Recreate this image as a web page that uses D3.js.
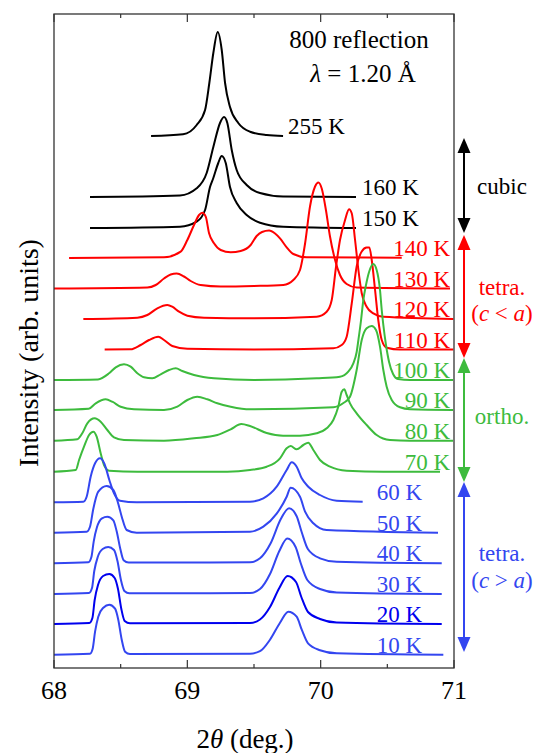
<!DOCTYPE html>
<html>
<head>
<meta charset="utf-8">
<script src="https://cdn.jsdelivr.net/npm/d3@7"></script>
<style>
  body { margin: 0; background: #fff; }
</style>
</head>
<body>
<svg id="chart" width="534" height="753" font-family="'Liberation Serif', 'Times New Roman', 'DejaVu Serif', serif"></svg>
<script>
// profiles: [2theta (deg), intensity above own baseline (arb.)]
const k255 = [[68.728,0],[68.968,1.7],[69.070,11],[69.133,26],[69.165,53],[69.195,83],[69.228,104],[69.258,86],[69.283,53],[69.320,29],[69.382,13],[69.470,4.3],[69.595,1],[69.718,0]];
const k160 = [[68.270,0],[68.945,1.5],[69.070,8.7],[69.145,24],[69.195,50],[69.245,74],[69.275,80],[69.300,74],[69.333,47],[69.370,27],[69.445,12],[69.545,4],[69.718,0.5],[70.265,0]];
const k150 = [[68.270,0],[68.945,1.3],[69.070,6.3],[69.133,18],[69.170,41],[69.195,50],[69.232,65],[69.258,72],[69.288,65],[69.320,41],[69.370,25],[69.445,13],[69.545,5.3],[69.718,1.3],[70.265,0]];
const k140 = [[68.113,0],[68.825,0.7],[68.950,6.3],[69.000,18],[69.050,33],[69.088,43],[69.112,45.3],[69.138,41.3],[69.163,24.7],[69.200,14.7],[69.250,8],[69.325,5.7],[69.400,7],[69.475,13],[69.520,22],[69.560,26],[69.613,27.5],[69.658,24.5],[69.695,19.7],[69.745,10.7],[69.795,4],[69.895,0.7],[70.608,0.3]];
const k130 = [[68.000,0],[68.700,1],[68.763,3.5],[68.825,10],[68.875,14],[68.920,15],[68.975,12],[69.025,7.5],[69.100,3.5],[69.250,2],[69.500,2.5],[69.720,3.5],[69.795,8.5],[69.845,18.5],[69.883,45],[69.920,82],[69.958,102],[69.983,106],[70.008,100],[70.040,78],[70.070,52],[70.108,28.5],[70.145,13.5],[70.195,4.5],[70.270,1],[70.970,0]];
const k120 = [[68.220,0],[68.625,1.3],[68.700,4],[68.775,10.7],[68.850,14],[68.887,12.3],[68.938,7.3],[69.000,3.3],[69.125,1.3],[69.500,0.7],[69.970,2.3],[70.045,7.3],[70.083,19],[70.115,52],[70.145,79],[70.183,99],[70.213,109.7],[70.233,105.7],[70.258,79],[70.283,49],[70.308,25.7],[70.345,12.3],[70.395,5.7],[70.470,2.3],[70.995,0]];
const k110 = [[68.380,0],[68.575,0.2],[68.650,4.5],[68.713,9.5],[68.782,12.8],[68.825,9.5],[68.887,3.5],[69.000,0.8],[69.500,0],[70.095,1.2],[70.158,4.5],[70.195,12.8],[70.233,46],[70.270,83],[70.308,98],[70.345,102],[70.365,102],[70.383,89.5],[70.408,59.5],[70.432,29.5],[70.458,9.5],[70.495,1.8],[70.595,0],[70.995,0]];
const k100 = [[68.000,0],[68.330,0.6],[68.413,6.7],[68.463,12.7],[68.525,15.7],[68.575,13.3],[68.625,6.7],[68.675,2.7],[68.737,1.7],[68.800,5.7],[68.863,10],[68.913,11.7],[68.962,9],[69.050,5],[69.200,1.7],[69.500,0],[69.970,1.7],[70.145,3.3],[70.207,8.3],[70.245,16.7],[70.270,28],[70.283,40],[70.303,60],[70.320,80],[70.340,95],[70.363,108],[70.395,116],[70.420,110],[70.445,90],[70.458,70],[70.470,55],[70.490,35],[70.513,18],[70.543,6],[70.580,1],[70.670,0],[70.993,0]];
const k90 = [[68.000,0],[68.260,1.2],[68.313,6.7],[68.388,10.7],[68.437,8.3],[68.500,3.3],[68.600,0.7],[68.825,0],[68.925,3.3],[69.000,10],[69.075,13.3],[69.150,10.7],[69.225,6.7],[69.325,3.3],[69.470,0.7],[70.095,2.7],[70.168,6.7],[70.220,13.3],[70.270,40],[70.308,70],[70.345,81.7],[70.383,84],[70.415,80],[70.445,63.3],[70.470,40],[70.495,23.3],[70.533,10],[70.595,2.7],[70.670,0.7],[70.993,0]];
const k80 = [[68.000,0],[68.175,1.4],[68.212,7.4],[68.250,17.4],[68.305,22.4],[68.350,19],[68.400,10.7],[68.450,3.4],[68.525,0.7],[68.825,0],[69.050,2.4],[69.225,5.7],[69.325,11.4],[69.405,16.7],[69.470,14.7],[69.595,7.7],[69.718,5],[69.845,5],[69.970,7.4],[70.045,12.4],[70.095,20.7],[70.132,34],[70.158,49],[70.177,51.4],[70.195,45.7],[70.220,37.4],[70.270,27.4],[70.345,15.7],[70.420,5.7],[70.520,0.7],[70.670,0],[70.993,0]];
const k70 = [[68.000,0],[68.163,1.7],[68.188,11.7],[68.225,25],[68.263,36.7],[68.295,40],[68.320,35],[68.350,18.4],[68.375,6.7],[68.413,1],[68.625,0],[69.300,0],[69.470,1.7],[69.595,5],[69.695,13.4],[69.745,23.4],[69.775,25.7],[69.820,22.4],[69.870,26.7],[69.907,29],[69.945,21.7],[69.995,11.7],[70.070,5],[70.195,1],[70.470,0],[70.895,0]];
const k60 = [[68.000,0],[68.220,0.6],[68.245,5.6],[68.275,25.6],[68.308,39],[68.345,44],[68.377,39],[68.415,22.3],[68.450,9],[68.495,1.6],[68.620,0],[69.470,0.6],[69.570,4],[69.670,15.6],[69.745,32.3],[69.783,40],[69.820,35.6],[69.858,24],[69.907,15.6],[69.995,7.3],[70.120,1.6],[70.315,0.6]];
const k50 = [[68.000,0],[68.245,1],[68.270,6],[68.295,24],[68.332,41],[68.395,46.7],[68.445,42.7],[68.482,29],[68.508,16],[68.545,2.7],[68.620,0],[69.470,1],[69.570,6],[69.670,19],[69.745,36],[69.775,45],[69.845,36],[69.883,21],[69.945,9.4],[70.045,2.7],[70.880,0]];
const k40 = [[68.000,0],[68.258,1],[68.280,6],[68.298,22],[68.322,36],[68.360,45],[68.400,46.6],[68.445,43],[68.470,32],[68.498,14],[68.522,3],[68.560,0.7],[69.470,1],[69.545,5],[69.625,20],[69.700,44],[69.763,55],[69.820,47],[69.858,31],[69.905,14],[69.995,5],[70.120,1.5],[70.908,0]];
const k30 = [[68.000,0],[68.262,1],[68.285,6],[68.302,23],[68.328,37],[68.365,45],[68.407,47],[68.450,44],[68.476,33],[68.502,14],[68.528,3],[68.565,0.7],[69.470,1],[69.545,5],[69.620,20],[69.690,43],[69.750,55.5],[69.812,47],[69.850,31],[69.900,14],[69.995,5],[70.120,1.5],[70.908,0]];
const k20 = [[68.000,0],[68.265,1],[68.288,6],[68.305,24],[68.330,39],[68.368,48],[68.415,50],[68.455,46],[68.480,35],[68.505,15],[68.530,3],[68.570,0.7],[69.470,1],[69.545,4.5],[69.620,17],[69.690,36],[69.752,48],[69.815,42],[69.855,27],[69.905,12],[69.995,5],[70.120,1.5],[70.908,0]];
const k10 = [[68.000,0],[68.270,1],[68.290,6],[68.308,23],[68.332,38],[68.370,47],[68.415,50],[68.458,46],[68.482,35],[68.508,15],[68.533,3],[68.570,0.7],[69.470,1],[69.545,3.5],[69.620,15],[69.695,32],[69.757,43],[69.820,38],[69.858,25],[69.907,11],[69.995,4.5],[70.120,1.4],[70.920,0]];

const temps   = ['255 K','160 K','150 K','140 K','130 K','120 K','110 K','100 K','90 K','80 K','70 K','60 K','50 K','40 K','30 K','20 K','10 K'];
const offsets = [532, 471, 440, 410, 379.5, 349, 318.5, 288, 258, 227.3, 196.3, 165.7, 135.3, 104.7, 74, 44, 13.3];
const phases  = ['cubic','cubic','cubic','tetraL','tetraL','tetraL','tetraL','ortho','ortho','ortho','ortho','tetraG','tetraG','tetraG','tetraG','tetraG','tetraG'];
const profiles = [k255, k160, k150, k140, k130, k120, k110, k100, k90, k80, k70, k60, k50, k40, k30, k20, k10];

const xTicks = [68, 69, 70, 71];
const xMinor = [68.5, 69.5, 70.5];

// phase bars on the right: [top, bottom] in the same arb. units as offsets
const phaseBars = [
  {key: 'cubic',  range: [530, 435], lines: ['cubic'], ty: [194]},
  {key: 'tetraL', range: [433, 310], lines: ['tetra.', '(c < a)'], ty: [295, 321]},
  {key: 'ortho',  range: [310, 186], lines: ['ortho.'], ty: [424]},
  {key: 'tetraG', range: [186, 16],  lines: ['tetra.', '(c > a)'], ty: [561, 588]}
];

const colors = {cubic: '#000000', tetraL: '#ff0000', ortho: '#3dbb3d', tetraG: '#3346f0'};

const W = 534, H = 753;
const margin = {top: 14, right: 80, bottom: 85, left: 54};
const svg = d3.select('#chart');

const x = d3.scaleLinear().domain([68, 71]).range([margin.left, W - margin.right]);
const y = d3.scaleLinear().domain([0, 654]).range([H - margin.bottom, margin.top]);

const line = d3.line()
  .x(d => x(d[0]))
  .y(d => y(d[1]))
  .curve(d3.curveMonotoneX);

// curves
temps.forEach((t, i) => {
  const off = offsets[i];
  const col = t === '20 K' ? '#0000ee' : colors[phases[i]];
  const pts = profiles[i].map(p => [p[0], p[1] + off]);
  svg.append('path')
    .attr('d', line(pts))
    .attr('fill', 'none')
    .attr('stroke', col)
    .attr('stroke-width', 2)
    .attr('stroke-linejoin', 'round');

  // labels
  let lx, anchor;
  if (phases[i] === 'cubic') { lx = t === '255 K' ? x(69.755) : x(70.31); anchor = 'start'; }
  else if (phases[i] === 'tetraG') { lx = x(70.42); anchor = 'start'; }
  else { lx = x(70.97); anchor = 'end'; }
  svg.append('text')
    .attr('x', lx)
    .attr('y', y(off) - 2)
    .attr('text-anchor', anchor)
    .attr('font-size', 23)
    .attr('fill', col)
    .text(t);
});

// frame
const x0 = x(68), x1 = x(71), y0 = y(0), y1 = y(654);
svg.append('rect')
  .attr('x', x0).attr('y', y1)
  .attr('width', x1 - x0).attr('height', y0 - y1)
  .attr('fill', 'none').attr('stroke', '#333').attr('stroke-width', 1.3);

// ticks (inward, bottom and top)
const tickG = svg.append('g').attr('stroke', '#333').attr('stroke-width', 1.2);
xTicks.concat(xMinor).forEach(v => {
  const len = xTicks.includes(v) ? 8 : 4;
  tickG.append('line').attr('x1', x(v)).attr('x2', x(v)).attr('y1', y0).attr('y2', y0 - len);
  tickG.append('line').attr('x1', x(v)).attr('x2', x(v)).attr('y1', y1).attr('y2', y1 + len);
});
xTicks.forEach(v => {
  svg.append('text')
    .attr('x', x(v)).attr('y', 699)
    .attr('text-anchor', 'middle')
    .attr('font-size', 26)
    .text(v);
});

// axis titles
const xt = svg.append('text')
  .attr('x', 245).attr('y', 748)
  .attr('text-anchor', 'middle')
  .attr('font-size', 27);
xt.append('tspan').text('2');
xt.append('tspan').attr('font-style', 'italic').text('θ');
xt.append('tspan').text(' (deg.)');

svg.append('text')
  .attr('transform', 'translate(38,353) rotate(-90)')
  .attr('text-anchor', 'middle')
  .attr('font-size', 28)
  .text('Intensity (arb. units)');

// header notes
svg.append('text')
  .attr('x', 359).attr('y', 48)
  .attr('text-anchor', 'middle')
  .attr('font-size', 25)
  .text('800 reflection');
const lam = svg.append('text')
  .attr('x', 363).attr('y', 82)
  .attr('text-anchor', 'middle')
  .attr('font-size', 25);
lam.append('tspan').attr('font-style', 'italic').text('λ');
lam.append('tspan').text(' = 1.20 Å');

// phase arrows
const ax = 464, hw = 6.5, hl = 15;
phaseBars.forEach(b => {
  const col = colors[b.key];
  const ya = y(b.range[0]), yb = y(b.range[1]);
  svg.append('line')
    .attr('x1', ax).attr('x2', ax)
    .attr('y1', ya + hl - 2).attr('y2', yb - hl + 2)
    .attr('stroke', col).attr('stroke-width', 2);
  svg.append('path')
    .attr('d', `M${ax},${ya} L${ax - hw},${ya + hl} L${ax + hw},${ya + hl} Z`)
    .attr('fill', col);
  svg.append('path')
    .attr('d', `M${ax},${yb} L${ax - hw},${yb - hl} L${ax + hw},${yb - hl} Z`)
    .attr('fill', col);

  b.lines.forEach((s, k) => {
    const t = svg.append('text')
      .attr('x', 502).attr('y', b.ty[k])
      .attr('text-anchor', 'middle')
      .attr('font-size', 23)
      .attr('fill', col);
    if (s.startsWith('(')) {
      t.append('tspan').text('(');
      t.append('tspan').attr('font-style', 'italic').text('c');
      t.append('tspan').text(s.slice(2, 5));
      t.append('tspan').attr('font-style', 'italic').text('a');
      t.append('tspan').text(')');
    } else {
      t.text(s);
    }
  });
});
</script>
</body>
</html>
